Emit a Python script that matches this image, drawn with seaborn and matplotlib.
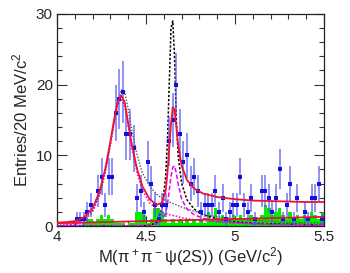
import numpy as np
import matplotlib
matplotlib.use("Agg")
import matplotlib.pyplot as plt
from matplotlib.ticker import MultipleLocator
import seaborn as sns

# bin centers (20 MeV bins from 4.0 to 5.5)
bin_lo = 4.0
bin_w = 0.02
counts = [0, 0, 0, 0, 0, 1, 1, 1, 2, 3,
          0, 5, 7, 3, 7, 7, 16, 18, 19, 13,
          13, 11, 4, 5, 2, 9, 6, 3, 1, 3,
          3, 12, 15, 20, 13, 9, 10, 6, 7, 5,
          2, 3, 3, 3, 5, 2, 4, 1, 2, 3,
          3, 7, 3, 2, 4, 1, 0, 5, 5, 4,
          2, 4, 8, 1, 3, 6, 1, 4, 0, 2,
          1, 4, 4, 6, 1]
sideband = [0, 0, 0, 0, 0, 0, 0, 0.5, 1, 1,
            0.5, 1, 1.5, 1, 1.5, 1, 0.5, 0.5, 0.5, 0,
            0.5, 0.5, 2, 2, 1.5, 0.5, 1, 2.5, 2.5, 2,
            1, 0.5, 1, 0.5, 1, 0.5, 1, 0.5, 1, 0.5,
            1, 0.5, 2, 1, 2.5, 1, 1.5, 1, 1, 1.5,
            1, 1.5, 1, 1, 1.5, 1, 1, 1.5, 3, 2.5,
            1.5, 2, 2.5, 1.5, 1, 2, 1, 1.5, 1, 1.5,
            1, 2, 1.5, 1, 2]

# fit curves
curve_x = [4.00, 4.05, 4.10, 4.15, 4.20, 4.24, 4.27, 4.30, 4.32, 4.34,
           4.36, 4.38, 4.40, 4.42, 4.45, 4.48, 4.52, 4.56, 4.59, 4.61,
           4.62, 4.63, 4.64, 4.65, 4.66, 4.67, 4.68, 4.70, 4.73, 4.77,
           4.82, 4.90, 5.00, 5.10, 5.25, 5.40, 5.50]
fit_total = [0.5, 0.55, 0.7, 1.2, 2.5, 5, 8, 12, 15, 17.5,
             18.5, 17.5, 14.5, 11.5, 8, 5.6, 3.8, 3.0, 3.3, 5,
             7.5, 11, 14.5, 16.8, 16.5, 14, 11.5, 8.5, 6.5, 5.3,
             4.6, 4.1, 3.8, 3.6, 3.5, 3.4, 3.4]
fit_r1 = [0.05, 0.1, 0.25, 0.7, 2, 4.5, 7.5, 11.5, 14.5, 17,
          18, 17, 14, 11, 7.5, 5, 3.3, 2.4, 2.0, 1.8,
          1.7, 1.6, 1.55, 1.5, 1.45, 1.4, 1.3, 1.2, 1.05, 0.9,
          0.75, 0.6, 0.45, 0.35, 0.25, 0.2, 0.15]
fit_r2 = [0.05, 0.05, 0.05, 0.05, 0.05, 0.05, 0.05, 0.05, 0.05, 0.05,
          0.05, 0.05, 0.05, 0.05, 0.1, 0.1, 0.15, 0.3, 0.8, 1.8,
          3, 5, 7, 8.3, 8.5, 7.5, 6, 3.8, 2.4, 1.6,
          1.1, 0.7, 0.45, 0.3, 0.2, 0.15, 0.1]
alt_r1 = [0.1, 0.2, 0.4, 0.9, 2.2, 4.5, 7.5, 11.5, 14.5, 17.5,
          19.3, 19, 16.5, 13.5, 10, 7.5, 5.6, 4.5, 3.9, 3.6,
          3.5, 3.4, 3.3, 3.2, 3.1, 3.0, 2.9, 2.7, 2.4, 2.1,
          1.7, 1.3, 1.0, 0.8, 0.6, 0.45, 0.4]
alt_r2 = [0, 0, 0, 0, 0, 0, 0, 0, 0, 0,
          0, 0, 0, 0, 0, 0, 0.1, 0.5, 2.5, 7,
          12, 20, 28, 29, 24, 15, 10, 6, 3.7, 2.4,
          1.6, 1.0, 0.6, 0.4, 0.3, 0.2, 0.15]
bkg_x = [4.0, 5.5]
bkg_y = [0.4, 1.3]

centers = bin_lo + bin_w * (np.arange(len(counts)) + 0.5)
counts = np.array(counts)

sns.set_style("ticks")
plt.rcParams['font.family'] = ['Liberation Sans', 'DejaVu Sans']

fig = plt.figure(figsize=(3.5, 2.73), dpi=100)
ax = fig.add_axes([0.163, 0.172, 0.763, 0.777])

# sideband histogram
ax.bar(centers, sideband, width=bin_w, color="#00ee00", linewidth=0, zorder=2)

# data with errors
nz = counts > 0
ax.errorbar(centers[nz], counts[nz], yerr=np.sqrt(counts[nz]), xerr=bin_w / 2,
            fmt="none", ecolor="#5555ee", elinewidth=1.2, alpha=0.75, zorder=4)
sns.scatterplot(x=centers[nz], y=counts[nz], color="#1010e0", s=9,
                marker="s", linewidth=0, ax=ax, zorder=5)

# fit curves
sns.lineplot(x=curve_x, y=alt_r1, color="#555555", linestyle=(0, (1, 1.2)),
             linewidth=1.0, ax=ax, zorder=3)
sns.lineplot(x=curve_x, y=alt_r2, color="black", linestyle=(0, (1.5, 1.2)),
             linewidth=1.1, ax=ax, zorder=3)
sns.lineplot(x=curve_x, y=fit_r1, color="#ee00ee", linestyle=(0, (1, 1.2)),
             linewidth=1.1, ax=ax, zorder=3)
sns.lineplot(x=curve_x, y=fit_r2, color="#ee00ee", linestyle=(0, (3, 1.5)),
             linewidth=1.1, ax=ax, zorder=3)
sns.lineplot(x=bkg_x, y=bkg_y, color="#ee1133", linewidth=1.3, ax=ax, zorder=6)
sns.lineplot(x=curve_x, y=fit_total, color="#ee1133", linewidth=1.3, ax=ax, zorder=6)

ax.set_xlim(4, 5.5)
ax.set_ylim(0, 30)
ax.xaxis.set_major_locator(MultipleLocator(0.5))
ax.xaxis.set_minor_locator(MultipleLocator(0.1))
ax.yaxis.set_major_locator(MultipleLocator(10))
ax.yaxis.set_minor_locator(MultipleLocator(2))
ax.xaxis.set_major_formatter(plt.FuncFormatter(lambda v, p: f"{v:g}"))
ax.tick_params(which="both", direction="in", top=True, right=True,
               labelsize=11, width=0.8, color="#333333")
ax.tick_params(which="major", length=7, pad=3)
ax.tick_params(which="minor", length=3.5)
for s in ax.spines.values():
    s.set_linewidth(0.9)
    s.set_color("#222222")

ax.set_xlabel(r"M($\mathregular{\pi^+\pi^-\psi(2S)}$) (GeV/c$\mathregular{^2}$)",
              fontsize=12, labelpad=1)
ax.set_ylabel(r"Entries/20 MeV/c$\mathregular{^2}$", fontsize=12, labelpad=4)

fig.savefig("out.png", dpi=100)
